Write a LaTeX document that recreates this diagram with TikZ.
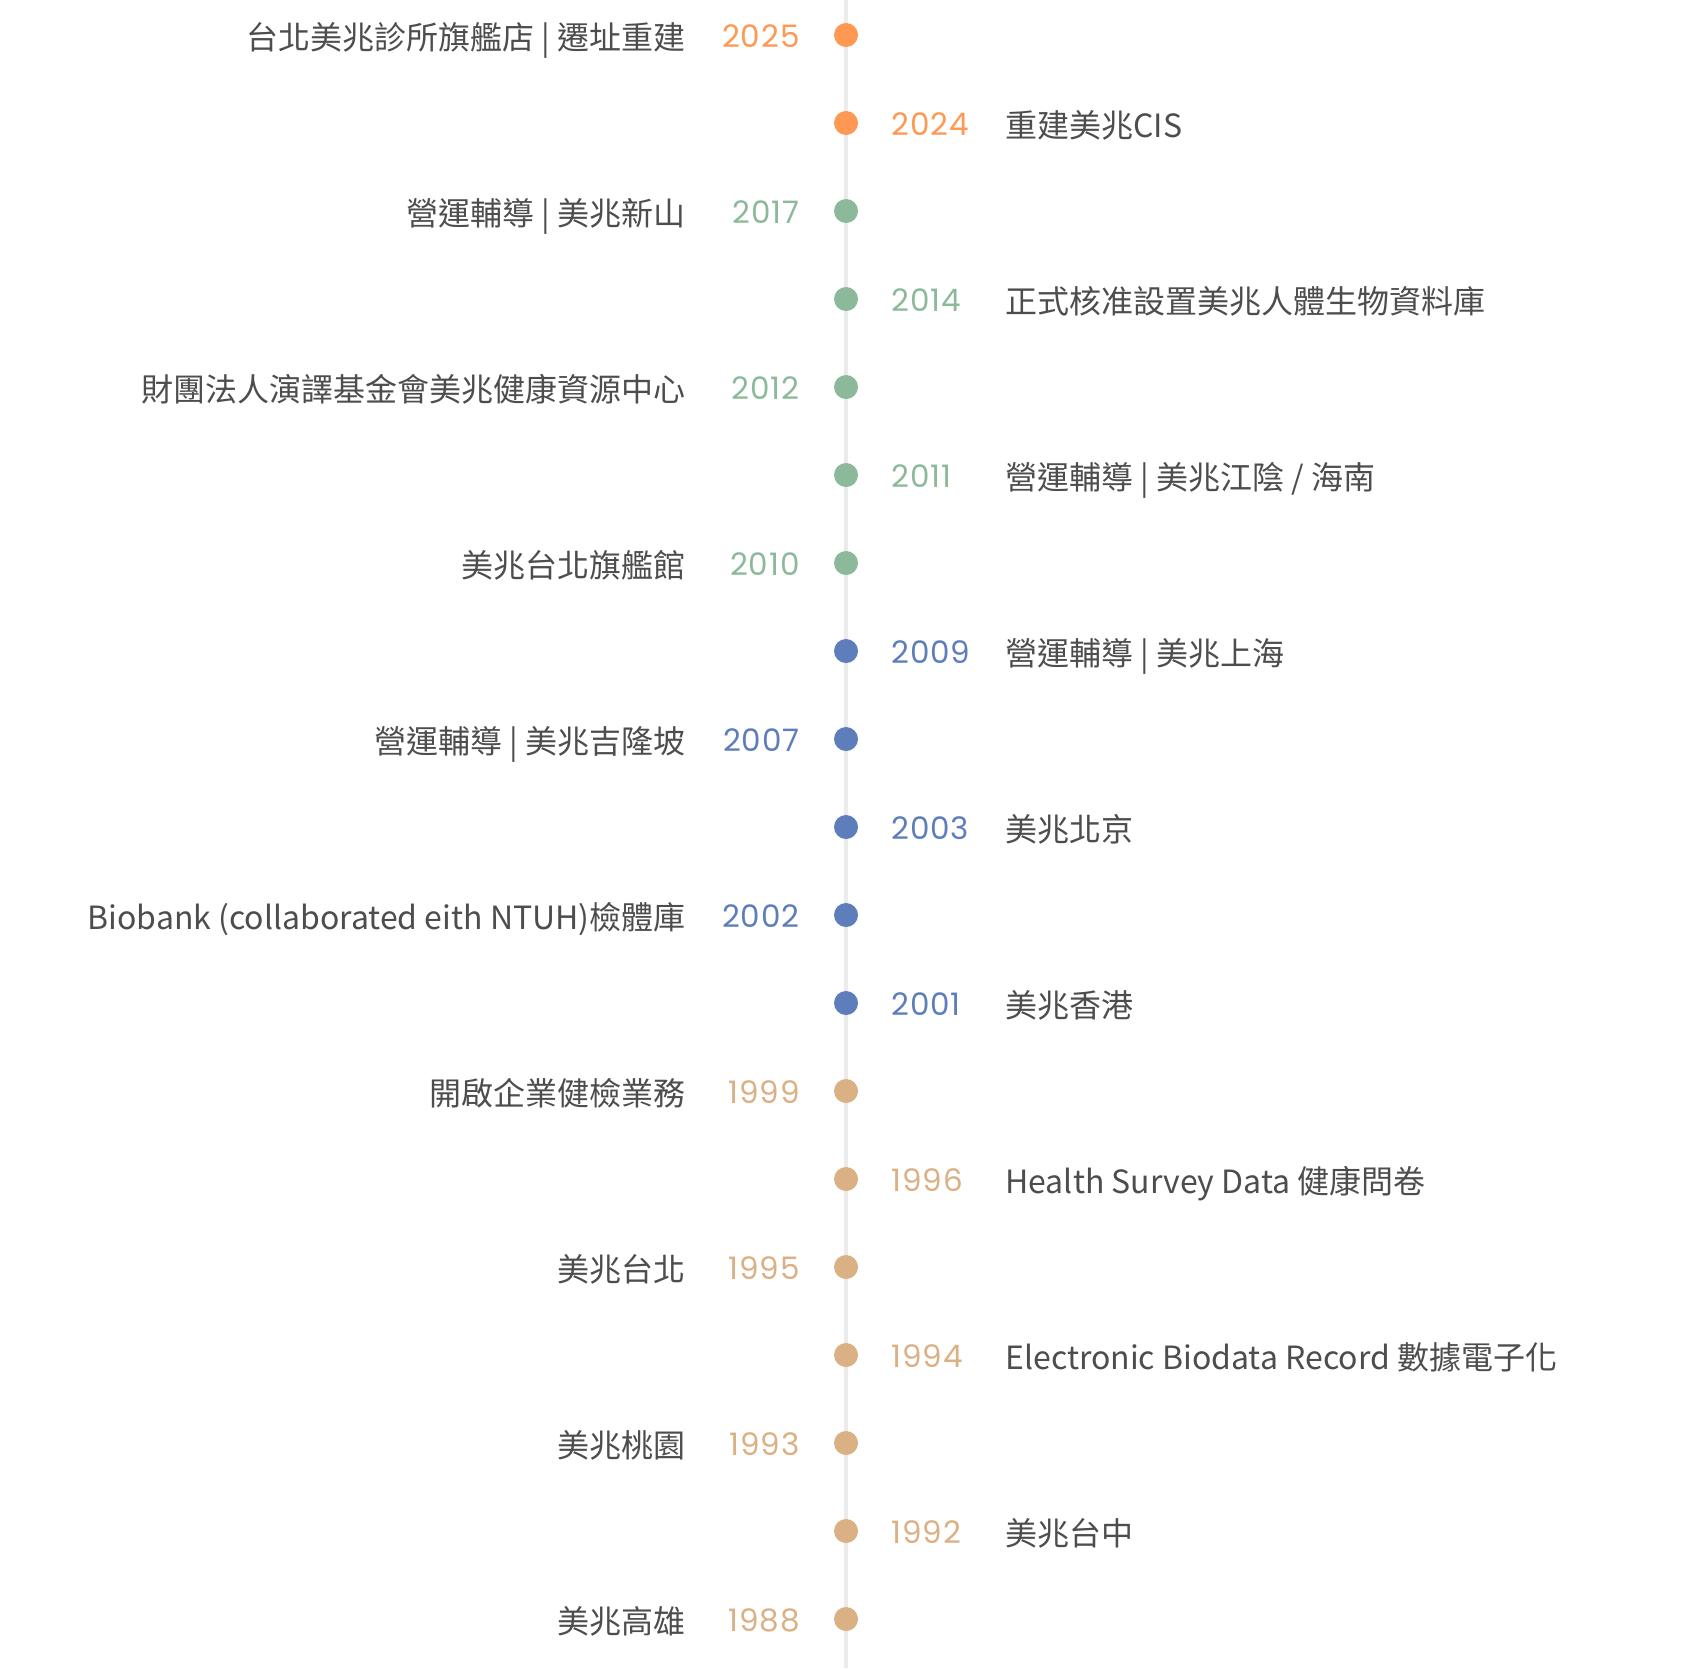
\documentclass[tikz,border=0pt]{standalone}
\usepackage{fontspec}
\setmainfont{Noto Sans CJK TC}
\newfontfamily\yearfont[Numbers=Monospaced, LetterSpace=3]{Poppins}
\usepackage{tikz}
\usetikzlibrary{positioning}

\definecolor{lineGray}{HTML}{EBEBEB}
\definecolor{textGray}{HTML}{4D4D4D}
\definecolor{orangeDot}{HTML}{FF9852}
\definecolor{greenDot}{HTML}{8CB99A}
\definecolor{blueDot}{HTML}{5E7EBB}
\definecolor{tanDot}{HTML}{DAB084}

\begin{document}
\begin{tikzpicture}[x=1pt, y=1pt,
    dot/.style={circle, inner sep=0pt, minimum size=24pt},
    year/.style={inner sep=0pt, text height=24pt, text depth=0pt,
        font=\yearfont\fontsize{31}{36}\selectfont},
    event/.style={inner sep=0pt, text height=32pt, text depth=3pt, text=textGray,
        font=\fontsize{32}{38}\selectfont}]
    \useasboundingbox (0,0) rectangle (1692,-1668);

    % the time axis
    \coordinate (top) at (846,0);
    \coordinate (bot) at (846,-1668);
    \draw[line width=4pt, lineGray] (top) -- (bot);

    \node[dot, fill=orangeDot] (d2025) at (846,-35) {};
    \node[year, text=orangeDot, left = 34pt of d2025] (y2025) {2025};
    \node[event, left = 148pt of d2025] (e2025) {台北美兆診所旗艦店 | 遷址重建};

    \node[dot, fill=orangeDot] (d2024) at (846,-123) {};
    \node[year, text=orangeDot, right = 33pt of d2024] (y2024) {2024};
    \node[event, right = 147pt of d2024] (e2024) {重建美兆CIS};

    \node[dot, fill=greenDot] (d2017) at (846,-211) {};
    \node[year, text=greenDot, left = 34pt of d2017] (y2017) {2017};
    \node[event, left = 148pt of d2017] (e2017) {營運輔導 | 美兆新山};

    \node[dot, fill=greenDot] (d2014) at (846,-299) {};
    \node[year, text=greenDot, right = 33pt of d2014] (y2014) {2014};
    \node[event, right = 147pt of d2014] (e2014) {正式核准設置美兆人體生物資料庫};

    \node[dot, fill=greenDot] (d2012) at (846,-387) {};
    \node[year, text=greenDot, left = 34pt of d2012] (y2012) {2012};
    \node[event, left = 148pt of d2012] (e2012) {財團法人演譯基金會美兆健康資源中心};

    \node[dot, fill=greenDot] (d2011) at (846,-475) {};
    \node[year, text=greenDot, right = 33pt of d2011] (y2011) {2011};
    \node[event, right = 147pt of d2011] (e2011) {營運輔導 | 美兆江陰 / 海南};

    \node[dot, fill=greenDot] (d2010) at (846,-563) {};
    \node[year, text=greenDot, left = 34pt of d2010] (y2010) {2010};
    \node[event, left = 148pt of d2010] (e2010) {美兆台北旗艦館};

    \node[dot, fill=blueDot] (d2009) at (846,-651) {};
    \node[year, text=blueDot, right = 33pt of d2009] (y2009) {2009};
    \node[event, right = 147pt of d2009] (e2009) {營運輔導 | 美兆上海};

    \node[dot, fill=blueDot] (d2007) at (846,-739) {};
    \node[year, text=blueDot, left = 34pt of d2007] (y2007) {2007};
    \node[event, left = 148pt of d2007] (e2007) {營運輔導 | 美兆吉隆坡};

    \node[dot, fill=blueDot] (d2003) at (846,-827) {};
    \node[year, text=blueDot, right = 33pt of d2003] (y2003) {2003};
    \node[event, right = 147pt of d2003] (e2003) {美兆北京};

    \node[dot, fill=blueDot] (d2002) at (846,-915) {};
    \node[year, text=blueDot, left = 34pt of d2002] (y2002) {2002};
    \node[event, left = 148pt of d2002] (e2002) {Biobank (collaborated eith NTUH)檢體庫};

    \node[dot, fill=blueDot] (d2001) at (846,-1003) {};
    \node[year, text=blueDot, right = 33pt of d2001] (y2001) {2001};
    \node[event, right = 147pt of d2001] (e2001) {美兆香港};

    \node[dot, fill=tanDot] (d1999) at (846,-1091) {};
    \node[year, text=tanDot, left = 34pt of d1999] (y1999) {1999};
    \node[event, left = 148pt of d1999] (e1999) {開啟企業健檢業務};

    \node[dot, fill=tanDot] (d1996) at (846,-1179) {};
    \node[year, text=tanDot, right = 33pt of d1996] (y1996) {1996};
    \node[event, right = 147pt of d1996] (e1996) {Health Survey Data 健康問卷};

    \node[dot, fill=tanDot] (d1995) at (846,-1267) {};
    \node[year, text=tanDot, left = 34pt of d1995] (y1995) {1995};
    \node[event, left = 148pt of d1995] (e1995) {美兆台北};

    \node[dot, fill=tanDot] (d1994) at (846,-1355) {};
    \node[year, text=tanDot, right = 33pt of d1994] (y1994) {1994};
    \node[event, right = 147pt of d1994] (e1994) {Electronic Biodata Record 數據電子化};

    \node[dot, fill=tanDot] (d1993) at (846,-1443) {};
    \node[year, text=tanDot, left = 34pt of d1993] (y1993) {1993};
    \node[event, left = 148pt of d1993] (e1993) {美兆桃園};

    \node[dot, fill=tanDot] (d1992) at (846,-1531) {};
    \node[year, text=tanDot, right = 33pt of d1992] (y1992) {1992};
    \node[event, right = 147pt of d1992] (e1992) {美兆台中};

    \node[dot, fill=tanDot] (d1988) at (846,-1619) {};
    \node[year, text=tanDot, left = 34pt of d1988] (y1988) {1988};
    \node[event, left = 148pt of d1988] (e1988) {美兆高雄};
\end{tikzpicture}
\end{document}
